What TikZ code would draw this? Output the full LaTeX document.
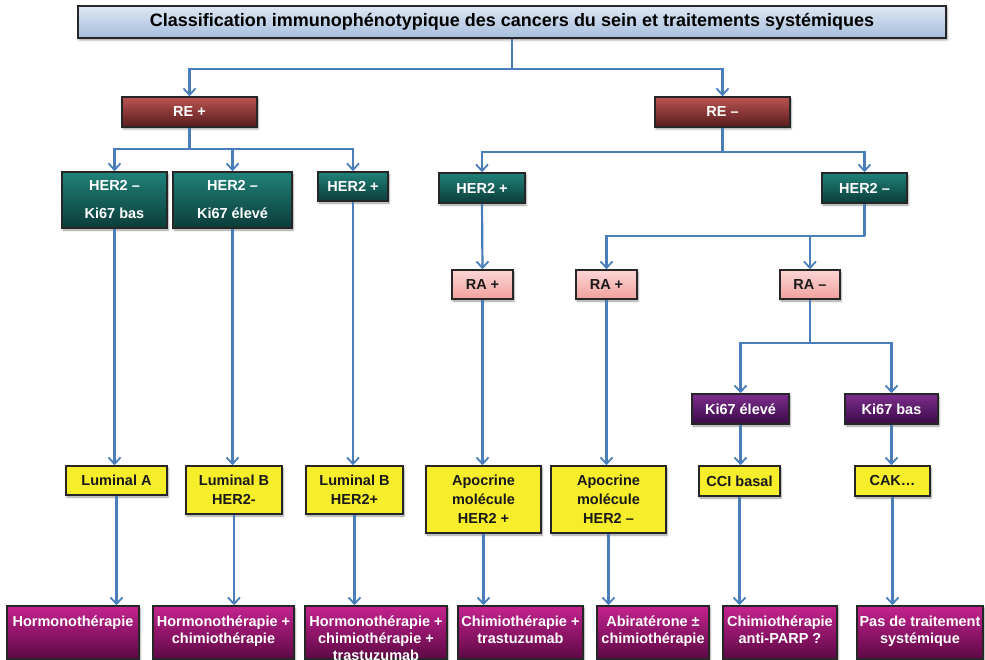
\documentclass[tikz,border=0pt]{standalone}
\usepackage{fontspec}
\setmainfont{Liberation Sans}
\usetikzlibrary{arrows.meta,shadows.blur}

\definecolor{conncol}{HTML}{4A7EBB}
\definecolor{titleT}{HTML}{DEE7F3}
\definecolor{titleB}{HTML}{A6BEDD}
\definecolor{reT}{HTML}{BA5450}
\definecolor{reB}{HTML}{581B1E}
\definecolor{herT}{HTML}{208279}
\definecolor{herB}{HTML}{0B3C39}
\definecolor{raT}{HTML}{FBD6D4}
\definecolor{raB}{HTML}{F1A19E}
\definecolor{kiT}{HTML}{7D2E8D}
\definecolor{kiB}{HTML}{390946}
\definecolor{yel}{HTML}{F6EE2A}
\definecolor{magT}{HTML}{C5238F}
\definecolor{magM}{HTML}{B01F82}
\definecolor{magB}{HTML}{5C0844}

% top-aligned text block for the treatment boxes
\newcommand{\topblock}[3]{\begin{minipage}[c][#2][t]{#1}\centering\rule{0pt}{20pt}#3\end{minipage}}

\tikzset{
  boxbase/.style={draw=black!85, line width=1.5pt, inner sep=0pt, align=center,
    font=\bfseries\fontsize{14.5}{17}\selectfont,
    blur shadow={shadow blur steps=6, shadow xshift=1pt, shadow yshift=-2pt, shadow opacity=40}},
  titlebox/.style={boxbase, top color=titleT, bottom color=titleB, text=black,
    font=\bfseries\fontsize{18}{20}\selectfont},
  rebox/.style={boxbase, top color=reT, bottom color=reB, text=white},
  herbox/.style={boxbase, top color=herT, bottom color=herB, text=white},
  her2line/.style={herbox, font=\bfseries\fontsize{14.5}{28}\selectfont},
  rabox/.style={boxbase, top color=raT, bottom color=raB, text=black!90},
  kibox/.style={boxbase, top color=kiT, bottom color=kiB, text=white},
  yelbox/.style={boxbase, fill=yel, text=black!90, font=\bfseries\fontsize{14.5}{19}\selectfont},
  magbox/.style={boxbase, top color=magT, middle color=magM, bottom color=magB, text=white},
  conn/.style={draw=conncol, line width=2.2pt},
  arr/.style={conn, -{Straight Barb[length=6.5pt,width=12pt,line width=1.8pt]}},
}

\begin{document}
\begin{tikzpicture}[x=1pt,y=-1pt]
\useasboundingbox (0,0) rectangle (985,660);

% title
\node[titlebox, minimum width=868pt, minimum height=32pt] (title) at (512,22)
  {Classification immunophénotypique des cancers du sein et traitements systémiques};

% oestrogen receptor level
\node[rebox, minimum width=135pt, minimum height=30pt] (re1) at (189.5,112) {RE +};
\node[rebox, minimum width=135pt, minimum height=30pt] (re2) at (722.5,112) {RE –};

% HER2 level
\node[her2line, minimum width=105pt, minimum height=56pt] (h1) at (114.5,200) {HER2 –\\Ki67 bas};
\node[her2line, minimum width=119pt, minimum height=56pt] (h2) at (232.5,200) {HER2 –\\Ki67 élevé};
\node[herbox, minimum width=70pt, minimum height=29pt] (h3) at (353,186.5) {HER2 +};
\node[herbox, minimum width=86pt, minimum height=30pt] (h4) at (482,188) {HER2 +};
\node[herbox, minimum width=85pt, minimum height=30pt] (h5) at (864.5,188) {HER2 –};

% androgen receptor level
\node[rabox, minimum width=61pt, minimum height=29pt] (ra1) at (482.5,284.5) {RA +};
\node[rabox, minimum width=61pt, minimum height=29pt] (ra2) at (606.5,284.5) {RA +};
\node[rabox, minimum width=60pt, minimum height=29pt] (ra3) at (810,284.5) {RA –};

% Ki67 level
\node[kibox, minimum width=97pt, minimum height=30pt] (k1) at (740.5,409) {Ki67 élevé};
\node[kibox, minimum width=93pt, minimum height=30pt] (k2) at (891.5,409) {Ki67 bas};

% molecular subtypes
\node[yelbox, minimum width=101pt, minimum height=29pt] (y1) at (116.5,480.5) {Luminal A};
\node[yelbox, minimum width=96pt, minimum height=48pt] (y2) at (234,490) {Luminal B\\HER2-};
\node[yelbox, minimum width=97pt, minimum height=48pt] (y3) at (354.5,490) {Luminal B\\HER2+};
\node[yelbox, minimum width=115pt, minimum height=67pt] (y4) at (483.5,499.5) {Apocrine\\molécule\\HER2 +};
\node[yelbox, minimum width=115pt, minimum height=67pt] (y5) at (608.5,499.5) {Apocrine\\molécule\\HER2 –};
\node[yelbox, minimum width=81pt, minimum height=30pt] (y6) at (739.5,481) {CCI basal};
\node[yelbox, minimum width=75pt, minimum height=30pt] (y7) at (892.5,481) {CAK…};

% systemic treatments
\node[magbox] (b1) at (73,632.5) {\topblock{132pt}{53pt}{Hormonothérapie}};
\node[magbox] (b2) at (223.5,632.5) {\topblock{141pt}{53pt}{Hormonothérapie +\\chimiothérapie}};
\node[magbox] (b3) at (376,632.5) {\topblock{142pt}{53pt}{Hormonothérapie +\\chimiothérapie +\\trastuzumab}};
\node[magbox] (b4) at (520.5,632.5) {\topblock{125pt}{53pt}{Chimiothérapie +\\trastuzumab}};
\node[magbox] (b5) at (653,632.5) {\topblock{112pt}{53pt}{Abiratérone ±\\chimiothérapie}};
\node[magbox] (b6) at (780,632.5) {\topblock{114pt}{53pt}{Chimiothérapie\\anti-PARP ?}};
\node[magbox] (b7) at (920,632.5) {\topblock{126pt}{53pt}{Pas de traitement\\systémique}};

% connectors
\draw[conn] (title.south) -- ++(0,30) coordinate (tj);
\draw[arr] (tj) -| (re1.north);
\draw[arr] (tj) -| (re2.north);

\draw[conn] (re1.south) -- ++(0,21) coordinate (rj1);
\draw[arr] (rj1) -| (h1.north);
\draw[arr] (rj1) -| (h2.north);
\draw[arr] (rj1) -| (h3.north);

\draw[conn] (re2.south) -- ++(0,24) coordinate (rj2);
\draw[arr] (rj2) -| (h4.north);
\draw[arr] (rj2) -| (h5.north);

\draw[arr] (h1.south) -- (h1.south |- y1.north);
\draw[arr] (h2.south) -- (h2.south |- y2.north);
\draw[arr] (h3.south) -- (h3.south |- y3.north);
\draw[arr] (h4.south) -- (ra1.north);
\draw[arr] (ra1.south) -- (ra1.south |- y4.north);

\draw[conn] (h5.south) -- ++(0,32) coordinate (hj);
\draw[arr] (hj) -| (ra2.north);
\draw[arr] (hj) -| (ra3.north);
\draw[arr] (ra2.south) -- (ra2.south |- y5.north);

\draw[conn] (ra3.south) -- ++(0,43.5) coordinate (aj);
\draw[arr] (aj) -| (k1.north);
\draw[arr] (aj) -| (k2.north);
\draw[arr] (k1.south) -- (k1.south |- y6.north);
\draw[arr] (k2.south) -- (k2.south |- y7.north);

\draw[arr] (y1.south) -- (y1.south |- b1.north);
\draw[arr] (y2.south) -- (y2.south |- b2.north);
\draw[arr] (y3.south) -- (y3.south |- b3.north);
\draw[arr] (y4.south) -- (y4.south |- b4.north);
\draw[arr] (y5.south) -- (y5.south |- b5.north);
\draw[arr] (y6.south) -- (y6.south |- b6.north);
\draw[arr] (y7.south) -- (y7.south |- b7.north);
\end{tikzpicture}
\end{document}
